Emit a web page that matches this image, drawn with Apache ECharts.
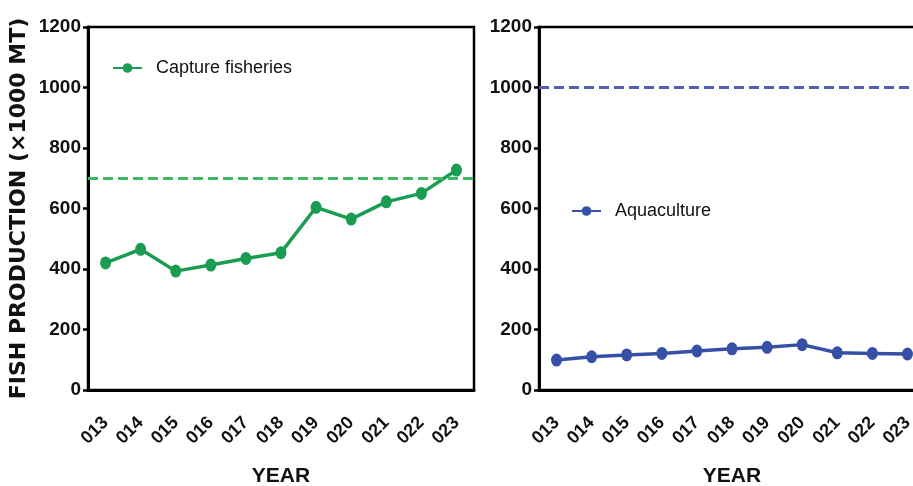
<!DOCTYPE html>
<html>
<head>
<meta charset="utf-8">
<script src="https://cdn.jsdelivr.net/npm/echarts@6/dist/echarts.min.js"></script>
<style>
  html, body { margin: 0; padding: 0; background: #fff; }
  #main { width: 913px; height: 486px; }
</style>
</head>
<body>
<div id="main"></div>
<script>
var years = ['013', '014', '015', '016', '017', '018', '019', '020', '021', '022', '023'];
var captureData = [420, 465, 393, 413, 435, 454, 604, 565, 622, 650, 727];
var aquaData = [99, 110, 116, 121, 129, 136, 141, 150, 123, 121, 119];
var captureRef = 700;
var aquaRef = 1000;
var yTicks = [0, 200, 400, 600, 800, 1000, 1200];

var sans = '"Liberation Sans", Arial, sans-serif';
var green = '#1a9c52';
var greenDash = '#3cb964';
var blue = '#3650a6';
var blueDash = '#5261b2';

var chart = echarts.init(document.getElementById('main'));

function xAxisFor(idx) {
    return {
        type: 'category',
        gridIndex: idx,
        data: years,
        boundaryGap: true,
        name: 'YEAR',
        nameLocation: 'middle',
        nameGap: 76,
        nameTextStyle: { fontFamily: sans, fontWeight: 'bold', fontSize: 21, color: '#111' },
        axisLine: { lineStyle: { color: '#000', width: 3 } },
        axisTick: { alignWithLabel: true, length: 6, lineStyle: { color: '#000', width: 2.5 } },
        axisLabel: { interval: 0, rotate: 45, margin: 30, fontFamily: sans, fontWeight: 'bold', fontSize: 18, color: '#111' },
        splitLine: { show: false }
    };
}

function yAxisFor(idx, title) {
    return {
        type: 'value',
        gridIndex: idx,
        min: yTicks[0],
        max: yTicks[yTicks.length - 1],
        interval: 200,
        name: title,
        nameLocation: 'middle',
        nameGap: 58,
        nameTextStyle: { fontFamily: '"DejaVu Sans", sans-serif', fontWeight: 'bold', fontSize: 22, color: '#111' },
        axisLine: { show: true, lineStyle: { color: '#000', width: 3 } },
        axisTick: { show: true, length: 5, lineStyle: { color: '#000', width: 2.5 } },
        axisLabel: {
            margin: 7, fontFamily: sans, fontWeight: 'bold', fontSize: 19, color: '#111',
            formatter: function (v) { return String(v); }
        },
        splitLine: { show: false }
    };
}

var option = {
    backgroundColor: '#fff',
    animation: false,
    grid: [
        { left: 88, top: 27, width: 386, height: 363, outerBoundsMode: 'none', containLabel: false, show: true, borderColor: '#000', borderWidth: 2.5, backgroundColor: 'transparent' },
        { left: 539, top: 27, width: 386, height: 363, outerBoundsMode: 'none', containLabel: false, show: true, borderColor: '#000', borderWidth: 2.5, backgroundColor: 'transparent' }
    ],
    legend: [
        {
            data: ['Capture fisheries'],
            left: 112, top: 59, padding: 0,
            itemWidth: 29, itemHeight: 12,
            textStyle: { fontFamily: sans, fontSize: 18, color: '#111', padding: [0, 0, 0, 9] }
        },
        {
            data: ['Aquaculture'],
            left: 571, top: 202, padding: 0,
            itemWidth: 29, itemHeight: 12,
            textStyle: { fontFamily: sans, fontSize: 18, color: '#111', padding: [0, 0, 0, 9] }
        }
    ],
    xAxis: [xAxisFor(0), xAxisFor(1)],
    yAxis: [yAxisFor(0, 'FISH PRODUCTION (\u00d71000 MT)'), yAxisFor(1, '')],
    series: [
        {
            name: 'Capture fisheries',
            type: 'line',
            xAxisIndex: 0, yAxisIndex: 0,
            data: captureData,
            symbol: 'circle',
            symbolSize: [11, 13],
            itemStyle: { color: green },
            lineStyle: { color: green, width: 3.5 },
            markLine: {
                silent: true,
                symbol: 'none',
                label: { show: false },
                lineStyle: { color: greenDash, width: 3, type: [10, 5] },
                data: [{ yAxis: captureRef }]
            },
            z: 3
        },
        {
            name: 'Aquaculture',
            type: 'line',
            xAxisIndex: 1, yAxisIndex: 1,
            data: aquaData,
            symbol: 'circle',
            symbolSize: [11, 13],
            itemStyle: { color: blue },
            lineStyle: { color: blue, width: 3.5 },
            markLine: {
                silent: true,
                symbol: 'none',
                label: { show: false },
                lineStyle: { color: blueDash, width: 3, type: [10, 5] },
                data: [{ yAxis: aquaRef }]
            },
            z: 3
        }
    ]
};

chart.setOption(option);
</script>
</body>
</html>
